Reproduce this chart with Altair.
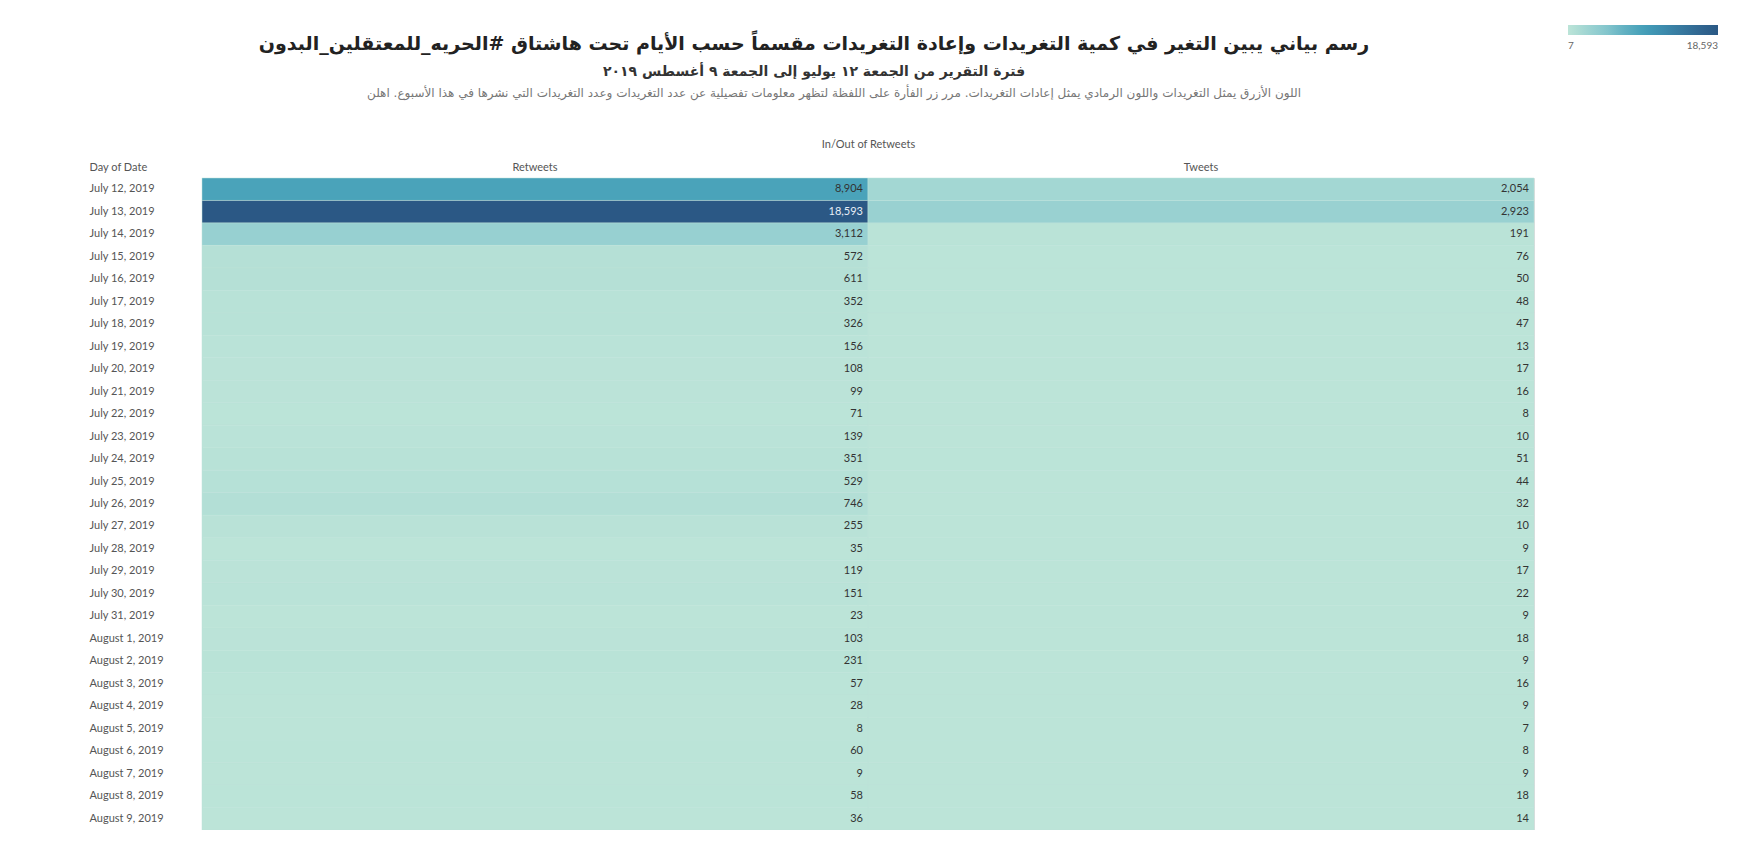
import altair as alt
import pandas as pd

dates = [
    "July 12, 2019", "July 13, 2019", "July 14, 2019", "July 15, 2019", "July 16, 2019",
    "July 17, 2019", "July 18, 2019", "July 19, 2019", "July 20, 2019", "July 21, 2019",
    "July 22, 2019", "July 23, 2019", "July 24, 2019", "July 25, 2019", "July 26, 2019",
    "July 27, 2019", "July 28, 2019", "July 29, 2019", "July 30, 2019", "July 31, 2019",
    "August 1, 2019", "August 2, 2019", "August 3, 2019", "August 4, 2019", "August 5, 2019",
    "August 6, 2019", "August 7, 2019", "August 8, 2019", "August 9, 2019",
]
retweets = [8904, 18593, 3112, 572, 611, 352, 326, 156, 108, 99, 71, 139, 351, 529, 746,
            255, 35, 119, 151, 23, 103, 231, 57, 28, 8, 60, 9, 58, 36]
tweets = [2054, 2923, 191, 76, 50, 48, 47, 13, 17, 16, 8, 10, 51, 44, 32,
          10, 9, 17, 22, 9, 18, 9, 16, 9, 7, 8, 9, 18, 14]
columns = ["Retweets", "Tweets"]

title_text = "رسم بياني يبين التغير في كمية التغريدات  وإعادة التغريدات مقسماً حسب الأيام تحت هاشتاق #الحريه_للمعتقلين_البدون"
subtitle_text = "فترة التقرير من الجمعة ١٢ يوليو إلى الجمعة ٩ أغسطس ٢٠١٩"
note_text = "اللون الأزرق يمثل التغريدات واللون الرمادي يمثل إعادات التغريدات. مرر زر الفأرة على اللفظة لتظهر معلومات تفصيلية عن عدد التغريدات وعدد التغريدات التي نشرها في هذا الأسبوع. اهلن"

rows = []
for d, r, t in zip(dates, retweets, tweets):
    rows.append({"date": d, "col": columns[0], "value": r})
    rows.append({"date": d, "col": columns[1], "value": t})
df = pd.DataFrame(rows)

vmin, vmax = 7, 18593
stops = [vmin + (vmax - vmin) * i / 8 for i in range(9)]
palette = ["#bce4d8", "#a0d5d3", "#86c7ce", "#62b1c2", "#45a0b9", "#3d8dae",
           "#37799f", "#316791", "#2b5885"]

FONT = "Lato"

x_enc = alt.X("col:N", sort=columns, scale=alt.Scale(paddingInner=0, paddingOuter=0),
              axis=alt.Axis(orient="top", title="In/Out of Retweets", titleFontSize=11,
                            titleFontWeight="normal", titleColor="#555", titlePadding=12,
                            labelFontSize=11, labelColor="#555", labelPadding=6,
                            ticks=False, domain=False, labelAngle=0, labelFont=FONT,
                            titleFont=FONT))
y_enc = alt.Y("date:N", sort=dates, scale=alt.Scale(paddingInner=0, paddingOuter=0),
              axis=alt.Axis(title="Day of Date", titleAngle=0, titleX=-113, titleY=-6,
                            titleAlign="left", titleBaseline="bottom", titleFontSize=11,
                            titleFontWeight="normal", titleColor="#555",
                            labelAlign="left", labelPadding=113, labelFontSize=11,
                            labelColor="#555", ticks=False, domain=False,
                            labelFont=FONT, titleFont=FONT))

base = alt.Chart(df)

cells = base.mark_rect(stroke="#bde3d9", strokeWidth=0.5).encode(
    x=x_enc,
    y=y_enc,
    color=alt.Color("value:Q",
                    scale=alt.Scale(domain=stops, range=palette),
                    legend=alt.Legend(orient="none", legendX=1366,
                                      legendY=-153, direction="horizontal",
                                      gradientLength=150, gradientThickness=10, title=None,
                                      values=[vmin, vmax],
                                      labelExpr="format(datum.value, ',')",
                                      labelFontSize=10, labelColor="#666", labelOffset=6,
                                      labelFont=FONT, gradientStrokeWidth=0)),
)

labels = base.mark_text(align="right", baseline="middle", dx=-5, fontSize=11, font=FONT).encode(
    x=alt.X("col:N", sort=columns, bandPosition=1),
    y=alt.Y("date:N", sort=dates),
    text=alt.Text("value:Q", format=","),
    color=alt.condition("datum.value > 12000", alt.value("#e8eef5"), alt.value("#333333")),
)

note = alt.Chart(pd.DataFrame({"t": [note_text]})).mark_text(
    fontSize=12, color="#777", font="DejaVu Sans", align="center", baseline="middle"
).encode(text="t:N", x=alt.value(632), y=alt.value(-85))

chart = alt.layer(cells, labels, note).properties(
    width=1332,
    height=652,
    autosize=alt.AutoSizeParams(type="none"),
    padding={"left": 194, "top": 170, "right": 190, "bottom": 0},
    title=alt.TitleParams(
        text=title_text,
        subtitle=subtitle_text,
        anchor="middle",
        dx=-54,
        dy=62,
        offset=8,
        font="DejaVu Sans",
        fontSize=19,
        fontWeight="bold",
        color="#222",
        subtitleFont="DejaVu Sans",
        subtitleFontSize=14,
        subtitleFontWeight="bold",
        subtitleColor="#333",
        subtitlePadding=11,
    ),
).configure_view(stroke=None, fill="#bde3d9").configure(background="white")

chart.save("out.html", embed_options={"renderer": "svg", "actions": False})
